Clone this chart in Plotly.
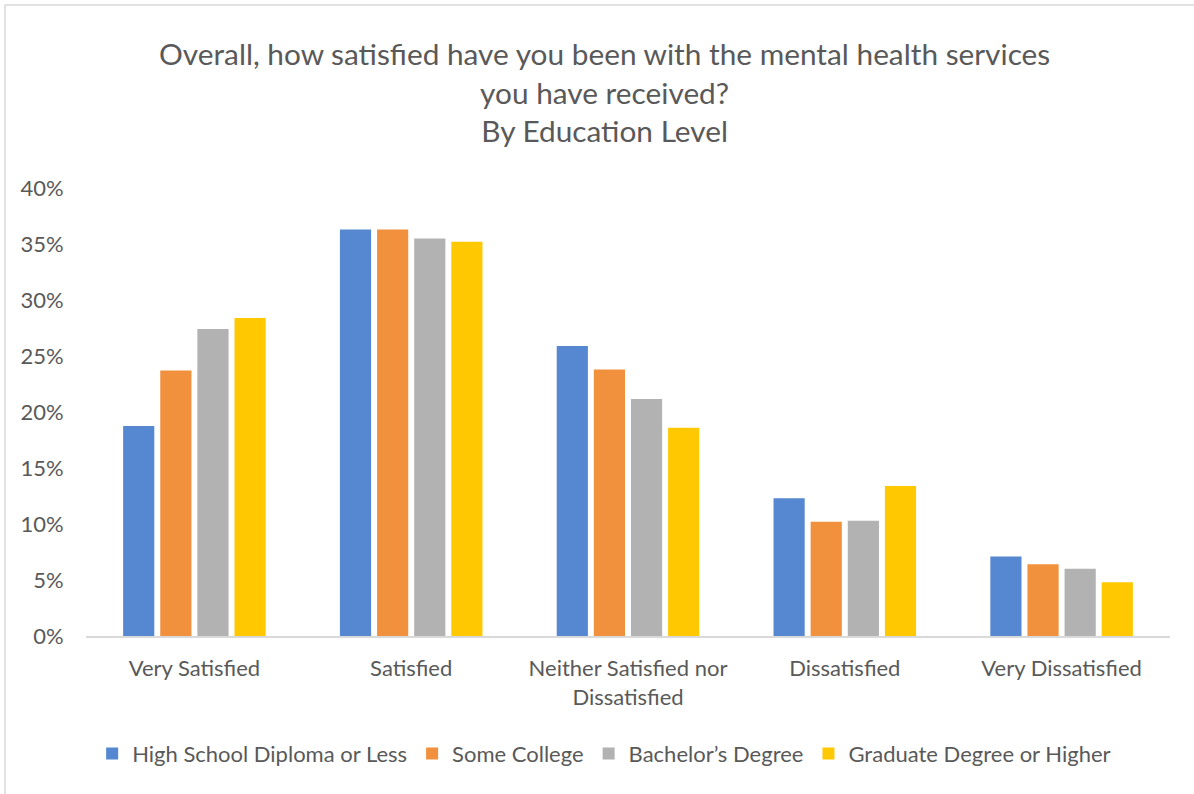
import plotly.graph_objects as go

# Survey responses by education level
categories = ["Very Satisfied", "Satisfied", "Neither Satisfied nor<br>Dissatisfied",
              "Dissatisfied", "Very Dissatisfied"]
high_school = [0.1875, 0.363, 0.259, 0.123, 0.071]
some_college = [0.237, 0.363, 0.238, 0.102, 0.064]
bachelors = [0.274, 0.355, 0.2115, 0.103, 0.060]
graduate = [0.284, 0.352, 0.186, 0.134, 0.048]

series = [
    ("High School Diploma or Less", high_school, "#5588D0"),
    ("Some College", some_college, "#F2913D"),
    ("Bachelor\u2019s Degree", bachelors, "#B2B2B2"),
    ("Graduate Degree or Higher", graduate, "#FFC800"),
]

font_family = "Lato, 'Open Sans', sans-serif"
text_color = "#595959"

fig = go.Figure()
for name, vals, color in series:
    fig.add_trace(go.Bar(
        x=categories, y=vals, name=name,
        marker=dict(color=color, line=dict(width=0)),
    ))

fig.update_layout(
    width=1194, height=794,
    paper_bgcolor="white", plot_bgcolor="white",
    barmode="group", bargap=0.315, bargroupgap=0.16,
    margin=dict(l=86, r=24, t=188, b=158),
    font=dict(family=font_family, color=text_color, size=22),
    xaxis=dict(
        showgrid=False, showline=True, linecolor="#D9D9D9", linewidth=2,
        ticks="outside", ticklen=12, tickcolor="rgba(0,0,0,0)",
        tickfont=dict(size=22, color=text_color),
    ),
    yaxis=dict(
        range=[0, 0.4], dtick=0.05, tickformat=".0%",
        showgrid=False, zeroline=False, showline=False,
        ticks="outside", ticklen=17, tickcolor="rgba(0,0,0,0)",
        tickfont=dict(size=22, color=text_color),
    ),
    legend=dict(
        orientation="h", x=0.478, xanchor="center", y=-0.263, yanchor="middle",
        font=dict(size=22, color=text_color),
        itemwidth=30, traceorder="normal",
    ),
    annotations=[dict(
        text="Overall, how satisfied have you been with the mental health services<br>"
             "you have received?<br>By Education Level",
        xref="paper", yref="paper", x=0.478, y=1.2132,
        xanchor="center", yanchor="middle", showarrow=False, align="center",
        font=dict(size=29.8, color=text_color, family=font_family),
    )],
    shapes=[dict(
        type="rect", xref="paper", yref="paper",
        x0=-81 / 1084, x1=1116 / 1084, y0=-164 / 448, y1=1 + 183 / 448,
        line=dict(color="#D9D9D9", width=1.5), fillcolor="rgba(0,0,0,0)", layer="below",
    )],
)

fig.write_html("out.html")
